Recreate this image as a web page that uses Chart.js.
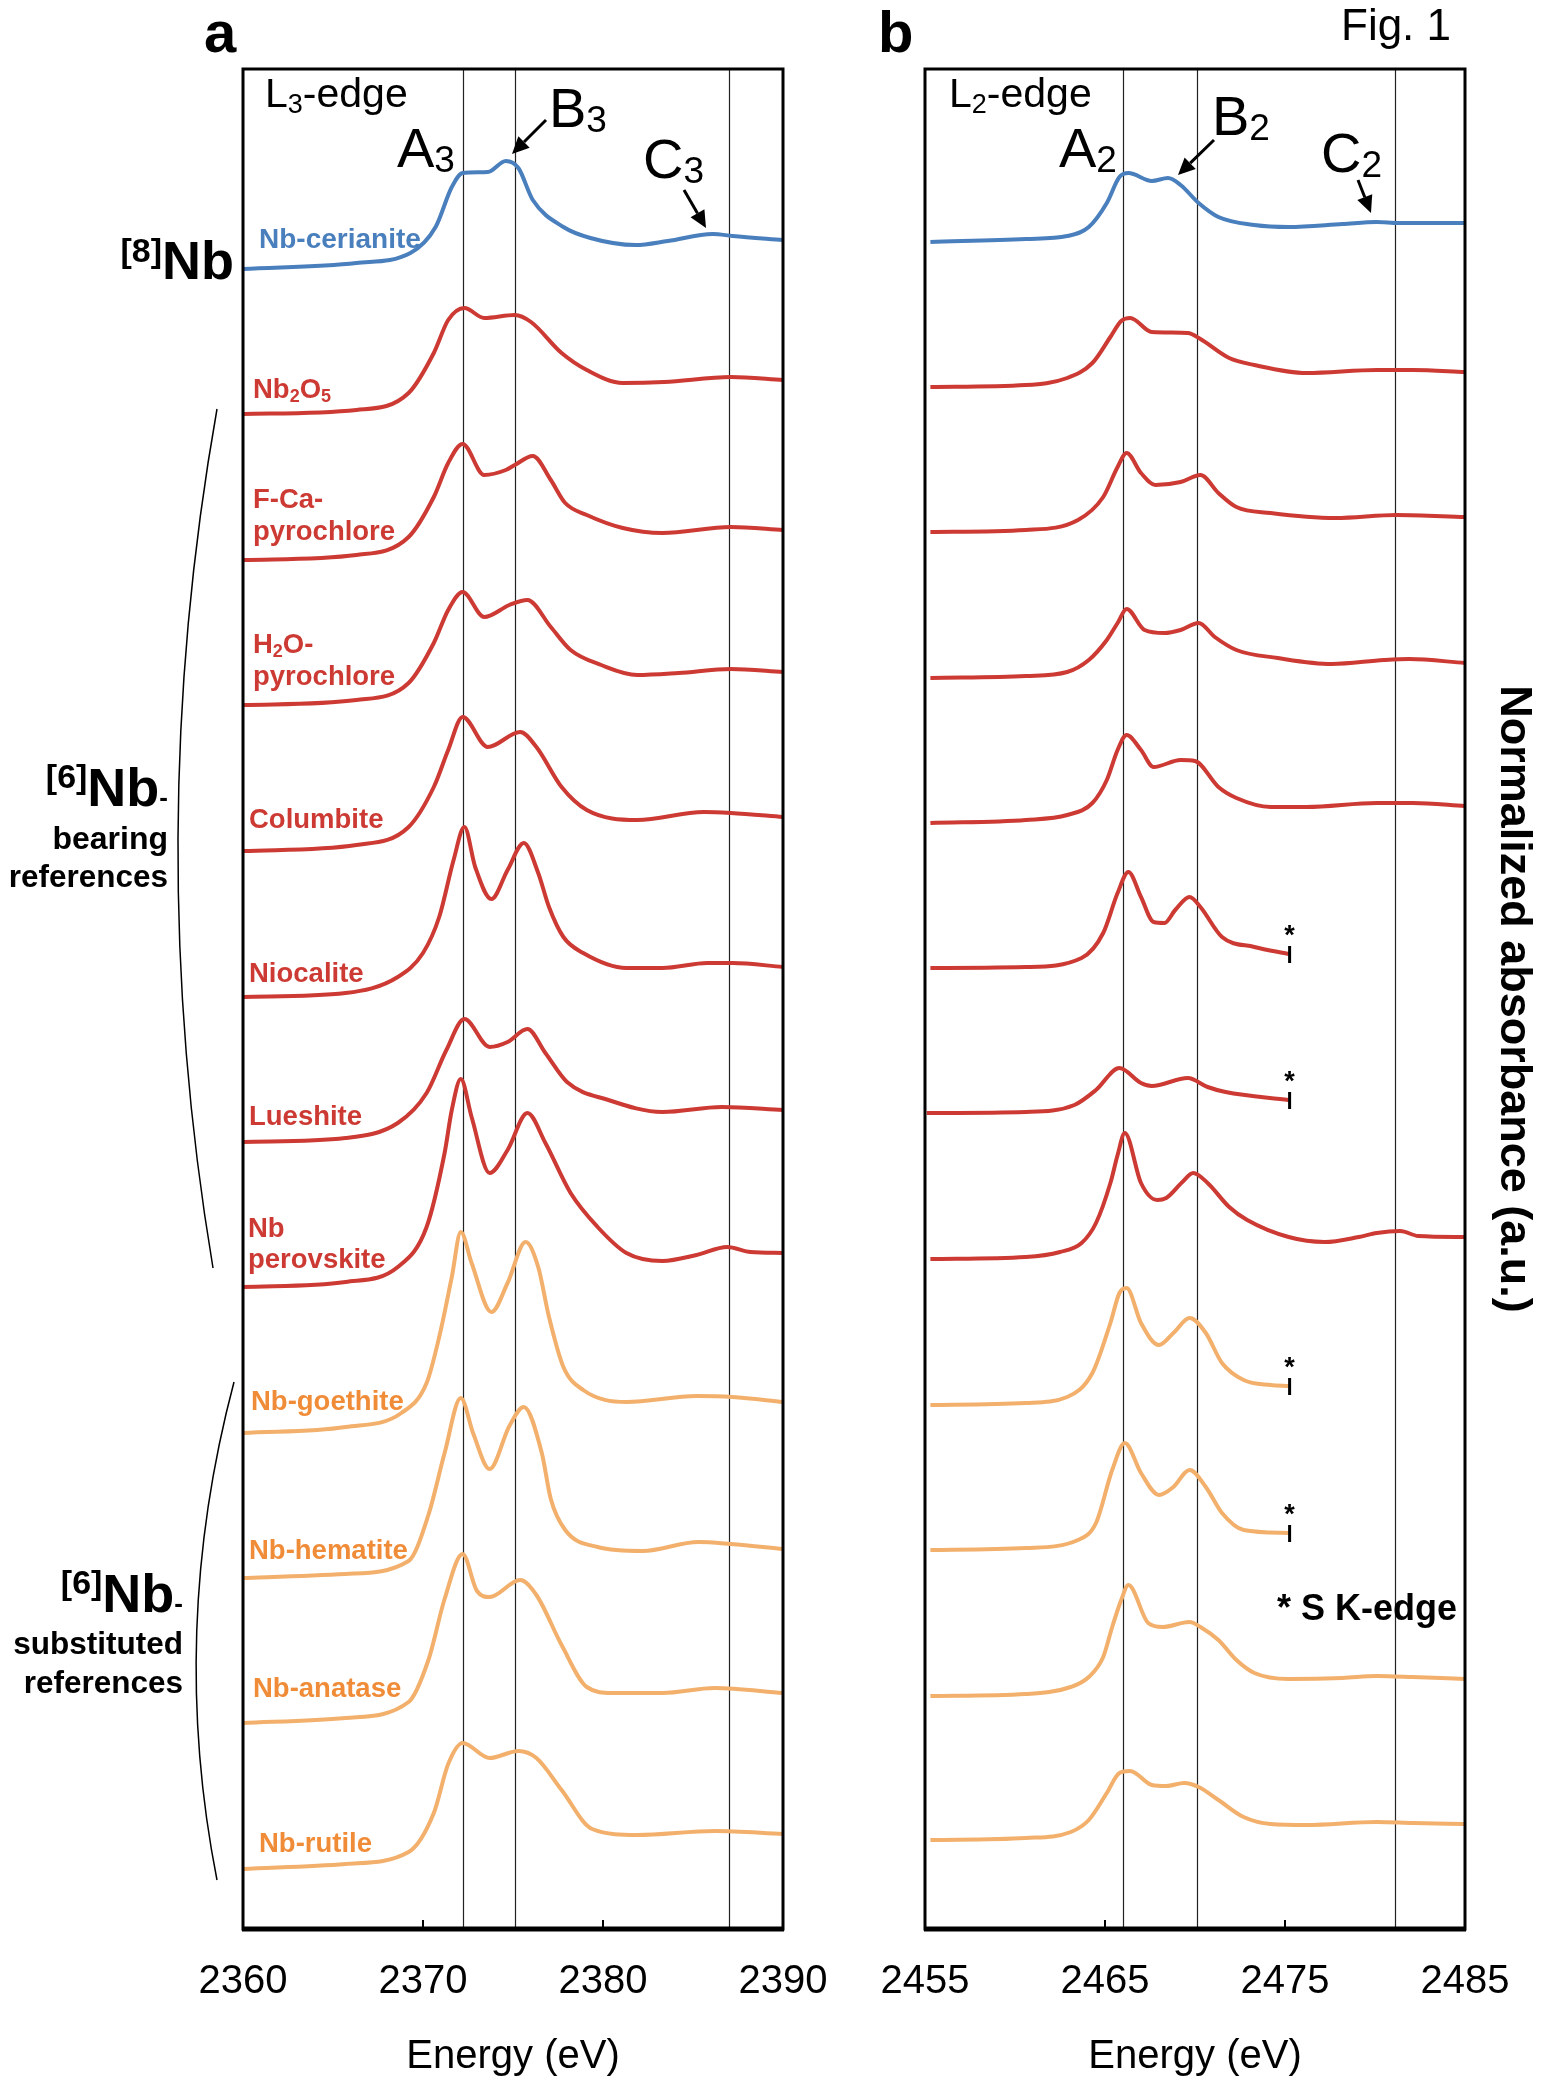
<!DOCTYPE html>
<html>
<head>
<meta charset="utf-8">
<script src="https://cdn.jsdelivr.net/npm/chart.js@4.4.1/dist/chart.umd.min.js"></script>
<style>
  html, body { margin: 0; padding: 0; background: #fff; }
  body { width: 1541px; height: 2081px; position: relative; overflow: hidden; }
  canvas { position: absolute; top: 0; }
  #chartL3 { left: 0; }
  #chartL2 { left: 840px; }
</style>
</head>
<body>
<canvas id="chartL3" width="860" height="2081"></canvas>
<canvas id="chartL2" width="701" height="2081"></canvas>
<script>
// samples, top to bottom
const samples = ["Nb-cerianite", "Nb2O5", "F-Ca-pyrochlore", "H2O-pyrochlore", "Columbite", "Niocalite",
  "Lueshite", "Nb perovskite", "Nb-goethite", "Nb-hematite", "Nb-anatase", "Nb-rutile"];
const groups = ["8", "6b", "6b", "6b", "6b", "6b", "6b", "6b", "6s", "6s", "6s", "6s"];
// L2 spectra cut by the S K-edge
const sKedge = ["Niocalite", "Lueshite", "Nb-goethite", "Nb-hematite"];

// tick values (eV)
const ticksL3 = [2360, 2370, 2380, 2390];
const ticksL2 = [2455, 2465, 2475, 2485];
// A, B, C features (eV)
const featuresL3 = [2372.2, 2375.1, 2387.0];
const featuresL2 = [2466.0, 2470.1, 2481.1];

// vertical offsets of the stacked spectra
const offsetsL3 = [16.60, 15.15, 13.69, 12.24, 10.78, 9.32, 7.87, 6.42, 4.96, 3.51, 2.06, 0.60];
const offsetsL2 = [16.87, 15.42, 13.97, 12.51, 11.06, 9.61, 8.16, 6.70, 5.24, 3.79, 2.33, 0.89];

// L3-edge spectra [energy, normalized absorbance]
const cerL3 = [[2360,0],[2366.3,0.06],[2369.3,0.16],[2370.7,0.42],[2371.6,0.82],[2372.2,0.96],[2373.6,0.97],[2374.6,1.08],[2375.3,1.01],[2376.1,0.69],[2377.8,0.42],[2379.3,0.31],[2381.8,0.24],[2383.6,0.28],[2386.1,0.35],[2387.2,0.33],[2390,0.29]];
const nb2o5L3 = [[2360,0],[2366.3,0.04],[2369.2,0.21],[2370.6,0.61],[2371.4,0.94],[2372.3,1.06],[2373.4,0.96],[2375.1,0.99],[2376.0,0.92],[2377.7,0.61],[2379.1,0.44],[2381.1,0.31],[2383.4,0.32],[2387.1,0.37],[2390,0.34]];
const fcaL3 = [[2360,0],[2366.3,0.05],[2369.2,0.23],[2370.6,0.63],[2371.4,0.97],[2372.2,1.16],[2373.4,0.85],[2374.6,0.90],[2375.1,0.95],[2376.1,1.04],[2377.1,0.80],[2377.9,0.57],[2379.1,0.45],[2381.1,0.32],[2383.3,0.27],[2387.1,0.33],[2390,0.30]];
const h2oL3 = [[2360,0],[2366.3,0.05],[2369.2,0.22],[2370.6,0.62],[2371.4,0.95],[2372.2,1.13],[2373.4,0.88],[2374.8,1.00],[2375.8,1.05],[2377.1,0.78],[2378.2,0.55],[2379.9,0.40],[2381.9,0.30],[2384.2,0.32],[2387.1,0.36],[2390,0.33]];
const colL3 = [[2360,0],[2366.3,0.06],[2369.2,0.24],[2370.6,0.64],[2371.4,1.01],[2372.2,1.34],[2373.6,1.04],[2375.4,1.19],[2376.3,1.04],[2377.7,0.64],[2379.1,0.41],[2381.9,0.31],[2385.6,0.39],[2387.1,0.38],[2390,0.34]];
const nioL3 = [[2360,0],[2365.7,0.04],[2368.6,0.20],[2370,0.44],[2370.9,0.80],[2371.7,1.37],[2372.3,1.70],[2372.9,1.30],[2373.8,0.98],[2374.7,1.27],[2375.6,1.54],[2376.4,1.24],[2377,0.90],[2377.8,0.60],[2378.9,0.44],[2381.3,0.29],[2383.3,0.29],[2385.8,0.34],[2387.2,0.34],[2390,0.30]];
const lueL3 = [[2360,0],[2365.7,0.04],[2368.6,0.19],[2370.2,0.49],[2371.3,0.92],[2372.3,1.23],[2373.7,0.95],[2374.7,1.00],[2375.8,1.13],[2376.8,0.89],[2378,0.60],[2380.3,0.42],[2383.3,0.30],[2386.6,0.35],[2390,0.32]];
const perL3 = [[2360,0],[2365.7,0.05],[2368.6,0.20],[2370.2,0.60],[2371.2,1.34],[2371.6,1.77],[2372.1,2.08],[2372.7,1.70],[2373.7,1.14],[2374.7,1.37],[2375.8,1.74],[2376.8,1.44],[2378.2,0.94],[2379.7,0.60],[2381.3,0.34],[2383.3,0.26],[2385.2,0.32],[2386.9,0.40],[2388.2,0.35],[2390,0.34]];
const goeL3 = [[2360,0],[2365.7,0.06],[2368.8,0.20],[2370.2,0.50],[2370.9,0.96],[2371.6,1.56],[2372.1,2.01],[2372.7,1.70],[2373.8,1.21],[2374.7,1.50],[2375.7,1.91],[2376.4,1.66],[2377,1.16],[2377.8,0.66],[2378.9,0.43],[2381.3,0.31],[2385.2,0.37],[2387.2,0.36],[2390,0.31]];
const hemL3 = [[2360,0],[2365.7,0.04],[2369.2,0.17],[2370.3,0.63],[2371.2,1.25],[2372.1,1.80],[2372.8,1.44],[2373.7,1.09],[2374.8,1.52],[2375.6,1.71],[2376.6,1.25],[2377.1,0.79],[2377.9,0.48],[2379.7,0.31],[2382.2,0.27],[2385.3,0.36],[2387.1,0.34],[2390,0.29]];
const anaL3 = [[2360,0],[2365.7,0.05],[2369.2,0.21],[2370.3,0.63],[2371.2,1.24],[2372.2,1.69],[2373.0,1.32],[2373.7,1.26],[2375.4,1.43],[2376.3,1.28],[2377.7,0.78],[2379.1,0.36],[2380.5,0.30],[2383.3,0.30],[2386.2,0.35],[2390,0.30]];
const rutL3 = [[2360,0],[2365.7,0.05],[2369.2,0.17],[2370.6,0.56],[2371.4,1.05],[2372.2,1.26],[2373.7,1.11],[2375.3,1.18],[2376.3,1.11],[2377.7,0.79],[2379.4,0.40],[2381.9,0.34],[2386.2,0.38],[2390,0.35]];

// L2-edge spectra [energy, normalized absorbance]
const cerL2 = [[2455.3,0],[2460.6,0.03],[2462.9,0.06],[2464.1,0.15],[2465.1,0.39],[2465.8,0.65],[2466.3,0.69],[2467.6,0.61],[2468.5,0.64],[2469.2,0.57],[2470.2,0.39],[2471.3,0.25],[2473.3,0.17],[2475.2,0.15],[2478.2,0.18],[2480.1,0.20],[2481.3,0.19],[2485,0.19]];
const nb2o5L2 = [[2455.3,0],[2460.6,0.02],[2462.9,0.09],[2464.3,0.24],[2465.3,0.50],[2465.9,0.66],[2466.4,0.69],[2467.6,0.55],[2469.6,0.54],[2470.3,0.48],[2471.9,0.29],[2473.3,0.22],[2476.2,0.14],[2480.1,0.17],[2482.1,0.17],[2485,0.15]];
const fcaL2 = [[2455.3,0],[2460.6,0.02],[2463.5,0.12],[2464.9,0.35],[2465.7,0.65],[2466.2,0.79],[2467,0.59],[2467.8,0.47],[2469.2,0.50],[2470.3,0.57],[2471.3,0.39],[2472.3,0.25],[2474.2,0.19],[2477.8,0.14],[2481.2,0.17],[2485,0.15]];
const h2oL2 = [[2455.3,0],[2460.6,0.02],[2462.9,0.06],[2464.1,0.18],[2465.1,0.38],[2465.7,0.55],[2466.2,0.69],[2467.2,0.48],[2468.3,0.45],[2469.2,0.48],[2470.2,0.55],[2471.1,0.41],[2472.3,0.28],[2474.6,0.20],[2477.6,0.14],[2480.5,0.18],[2481.9,0.19],[2485,0.15]];
const colL2 = [[2455.3,0],[2460.6,0.03],[2462.9,0.08],[2464.3,0.20],[2465.1,0.43],[2465.7,0.73],[2466.2,0.88],[2467,0.73],[2467.7,0.56],[2469.2,0.63],[2470,0.62],[2471.3,0.36],[2472.3,0.25],[2474.2,0.16],[2476.2,0.16],[2480.1,0.20],[2482.1,0.20],[2485,0.17]];
const nioL2 = [[2455.3,0],[2460.6,0.01],[2463.7,0.10],[2464.9,0.35],[2465.7,0.75],[2466.3,0.96],[2467,0.71],[2467.7,0.46],[2468.3,0.45],[2468.9,0.58],[2469.7,0.71],[2470.3,0.61],[2471.5,0.31],[2473.3,0.21],[2475.2,0.14]];
const lueL2 = [[2455.1,0],[2460.6,0.01],[2463.3,0.08],[2464.5,0.23],[2465.8,0.45],[2467,0.30],[2467.6,0.27],[2469.6,0.35],[2470.7,0.26],[2471.7,0.21],[2475.2,0.13]];
const perL2 = [[2455.3,0],[2460.6,0.02],[2462.5,0.07],[2463.7,0.16],[2464.5,0.36],[2465.3,0.76],[2465.7,1.04],[2466.1,1.26],[2467,0.76],[2467.9,0.59],[2468.4,0.61],[2469.3,0.77],[2469.9,0.86],[2470.7,0.76],[2471.9,0.52],[2472.9,0.39],[2475.2,0.22],[2477.2,0.17],[2479.1,0.22],[2480.1,0.26],[2481.4,0.28],[2482.4,0.23],[2485,0.22]];
const goeL2 = [[2455.3,0],[2460.6,0.02],[2462.9,0.08],[2464.3,0.32],[2465.3,0.82],[2465.8,1.12],[2466.2,1.17],[2467,0.82],[2468,0.60],[2468.8,0.72],[2469.7,0.87],[2470.6,0.72],[2471.5,0.42],[2472.7,0.25],[2474.2,0.20],[2475.2,0.19]];
const hemL2 = [[2455.3,0],[2460.6,0.02],[2463.5,0.10],[2464.5,0.27],[2465.4,0.80],[2466.1,1.07],[2467,0.77],[2468,0.55],[2468.8,0.63],[2469.7,0.80],[2470.6,0.63],[2471.5,0.37],[2472.7,0.20],[2475.2,0.17]];
const anaL2 = [[2455.3,0],[2460.6,0.02],[2463.1,0.09],[2464.1,0.19],[2464.9,0.39],[2465.4,0.69],[2465.9,0.96],[2466.3,1.11],[2467.4,0.73],[2468.2,0.69],[2469.7,0.74],[2470.3,0.69],[2471.3,0.56],[2472.3,0.36],[2473.3,0.23],[2475.2,0.17],[2478.2,0.18],[2480.1,0.20],[2482.1,0.19],[2485,0.17]];
const rutL2 = [[2455.3,0],[2460.6,0.02],[2463.1,0.08],[2464.1,0.20],[2465.1,0.47],[2465.8,0.67],[2466.4,0.69],[2467.6,0.55],[2468.4,0.54],[2469.4,0.57],[2470.2,0.53],[2471.3,0.40],[2472.7,0.23],[2474.2,0.16],[2476.2,0.15],[2480.1,0.18],[2482.1,0.17],[2485,0.16]];

const seriesL3 = [cerL3, nb2o5L3, fcaL3, h2oL3, colL3, nioL3, lueL3, perL3, goeL3, hemL3, anaL3, rutL3];
const seriesL2 = [cerL2, nb2o5L2, fcaL2, h2oL2, colL2, nioL2, lueL2, perL2, goeL2, hemL2, anaL2, rutL2];

// ---- styling ----
const FONT = "'Liberation Sans', Arial, Helvetica, sans-serif";
const BLUE = "#4a7fbd", RED = "#cc3a33", ORANGE_LINE = "#f2b06c", ORANGE_TEXT = "#f08c38";
const lineColor = { "8": BLUE, "6b": RED, "6s": ORANGE_LINE };

// text items in page pixels: parts = [text, size, dy]
const textsL3 = [
  { t: [["a", 58]], x: 204, y: 52, bold: true },
  { t: [["L", 41], ["3", 27, 6], ["-edge", 41]], x: 265, y: 107 },
  { t: [["A", 56], ["3", 37, 5]], x: 397, y: 167 },
  { t: [["B", 56], ["3", 37, 5]], x: 549, y: 127 },
  { t: [["C", 56], ["3", 37, 5]], x: 643, y: 178 },
  { t: [["[8]", 34, -17], ["Nb", 54]], x: 234, y: 279, bold: true, align: "right" },
  { t: [["[6]", 34, -18], ["Nb", 54], ["-", 26]], x: 168, y: 806, bold: true, align: "right" },
  { t: [["bearing", 32]], x: 168, y: 849, bold: true, align: "right" },
  { t: [["references", 31.5]], x: 168, y: 887, bold: true, align: "right" },
  { t: [["[6]", 34, -18], ["Nb", 54], ["-", 26]], x: 183, y: 1612, bold: true, align: "right" },
  { t: [["substituted", 31.5]], x: 183, y: 1654, bold: true, align: "right" },
  { t: [["references", 31.5]], x: 183, y: 1693, bold: true, align: "right" },
  { t: [["Nb-cerianite", 28]], x: 259, y: 248, bold: true, color: BLUE },
  { t: [["Nb", 27.5], ["2", 18, 4], ["O", 27.5], ["5", 18, 4]], x: 253, y: 398, bold: true, color: RED },
  { t: [["F-Ca-", 27.5]], x: 253, y: 508, bold: true, color: RED },
  { t: [["pyrochlore", 27.5]], x: 253, y: 540, bold: true, color: RED },
  { t: [["H", 27.5], ["2", 18, 4], ["O-", 27.5]], x: 253, y: 653, bold: true, color: RED },
  { t: [["pyrochlore", 27.5]], x: 253, y: 685, bold: true, color: RED },
  { t: [["Columbite", 27.5]], x: 249, y: 828, bold: true, color: RED },
  { t: [["Niocalite", 27.5]], x: 249, y: 982, bold: true, color: RED },
  { t: [["Lueshite", 27.5]], x: 249, y: 1125, bold: true, color: RED },
  { t: [["Nb", 27.5]], x: 248, y: 1237, bold: true, color: RED },
  { t: [["perovskite", 27.5]], x: 248, y: 1268, bold: true, color: RED },
  { t: [["Nb-goethite", 27.5]], x: 251, y: 1410, bold: true, color: ORANGE_TEXT },
  { t: [["Nb-hematite", 27.5]], x: 249, y: 1559, bold: true, color: ORANGE_TEXT },
  { t: [["Nb-anatase", 27.5]], x: 253, y: 1697, bold: true, color: ORANGE_TEXT },
  { t: [["Nb-rutile", 27.5]], x: 259, y: 1852, bold: true, color: ORANGE_TEXT }
];
const textsL2 = [
  { t: [["b", 58]], x: 878, y: 52, bold: true },
  { t: [["Fig. 1", 44]], x: 1341, y: 40 },
  { t: [["L", 41], ["2", 27, 6], ["-edge", 41]], x: 949, y: 107 },
  { t: [["A", 56], ["2", 37, 5]], x: 1059, y: 167 },
  { t: [["B", 56], ["2", 37, 5]], x: 1212, y: 135 },
  { t: [["C", 56], ["2", 37, 5]], x: 1321, y: 172 },
  { t: [["* S K-edge", 36]], x: 1277, y: 1620, bold: true }
];
const arrowsL3 = [[546, 120, 512, 154], [684, 190, 706, 228]];
const arrowsL2 = [[1214, 140, 1178, 175], [1358, 180, 1371, 213]];
const bracketsL3 = [[217, 409, 141, 838, 213, 1268], [234, 1382, 168, 1631, 217, 1880]];

function fontStr(size, bold) { return (bold ? "bold " : "") + size + "px " + FONT; }

function drawParts(ctx, item, ox) {
  ctx.save();
  ctx.fillStyle = item.color || "#000";
  ctx.textBaseline = "alphabetic";
  ctx.textAlign = "left";
  let w = 0;
  item.t.forEach(p => { ctx.font = fontStr(p[1], item.bold); w += ctx.measureText(p[0]).width; });
  let x = item.x - ox - (item.align === "right" ? w : 0);
  item.t.forEach(p => {
    ctx.font = fontStr(p[1], item.bold);
    ctx.fillText(p[0], x, item.y + (p[2] || 0));
    x += ctx.measureText(p[0]).width;
  });
  ctx.restore();
}

function drawArrow(ctx, a, ox) {
  const [x1, y1, x2, y2] = [a[0] - ox, a[1], a[2] - ox, a[3]];
  const ang = Math.atan2(y2 - y1, x2 - x1);
  const hl = 17, hw = 8;
  const bx = x2 - hl * Math.cos(ang), by = y2 - hl * Math.sin(ang);
  ctx.save();
  ctx.strokeStyle = "#000"; ctx.fillStyle = "#000"; ctx.lineWidth = 3;
  ctx.beginPath(); ctx.moveTo(x1, y1); ctx.lineTo(bx, by); ctx.stroke();
  ctx.beginPath();
  ctx.moveTo(x2, y2);
  ctx.lineTo(bx + hw * Math.sin(ang), by - hw * Math.cos(ang));
  ctx.lineTo(bx - hw * Math.sin(ang), by + hw * Math.cos(ang));
  ctx.closePath(); ctx.fill();
  ctx.restore();
}

const panelDecor = {
  id: "panelDecor",
  beforeDatasetsDraw(chart, args, opts) {
    const { ctx, chartArea: ca, scales: { x } } = chart;
    ctx.save();
    ctx.strokeStyle = "#222"; ctx.lineWidth = 1.2;
    opts.features.forEach(e => {
      const px = Math.round(x.getPixelForValue(e)) + 0.5;
      ctx.beginPath(); ctx.moveTo(px, ca.top); ctx.lineTo(px, ca.bottom); ctx.stroke();
    });
    ctx.restore();
  },
  afterDatasetsDraw(chart, args, opts) {
    const { ctx, chartArea: ca, scales: { x } } = chart;
    const ox = opts.offsetX;
    ctx.save();
    // frame
    ctx.strokeStyle = "#000"; ctx.lineWidth = 3;
    ctx.strokeRect(ca.left, ca.top, ca.right - ca.left, ca.bottom - ca.top);
    ctx.lineWidth = 5;
    ctx.beginPath(); ctx.moveTo(ca.left - 1, ca.bottom); ctx.lineTo(ca.right + 1, ca.bottom); ctx.stroke();
    // inner tick marks
    ctx.lineWidth = 2;
    x.ticks.forEach(t => {
      if (t.value <= x.min || t.value >= x.max) return;
      const px = x.getPixelForValue(t.value);
      ctx.beginPath(); ctx.moveTo(px, ca.bottom); ctx.lineTo(px, ca.bottom - 9); ctx.stroke();
    });
    // S K-edge cut marks
    chart.data.datasets.forEach((ds, i) => {
      if (!sKedge.includes(ds.label) || !opts.cutMarks) return;
      const pts = chart.getDatasetMeta(i).data;
      const p = pts[pts.length - 1];
      ctx.lineWidth = 3; ctx.strokeStyle = "#000";
      ctx.beginPath(); ctx.moveTo(p.x + 1, p.y - 8); ctx.lineTo(p.x + 1, p.y + 9); ctx.stroke();
      ctx.fillStyle = "#000"; ctx.font = fontStr(27, true);
      ctx.textAlign = "center"; ctx.textBaseline = "alphabetic";
      ctx.fillText("*", p.x + 1, p.y - 10);
    });
    // brackets
    ctx.lineWidth = 1.5; ctx.strokeStyle = "#000";
    (opts.brackets || []).forEach(b => {
      ctx.beginPath(); ctx.moveTo(b[0] - ox, b[1]);
      ctx.quadraticCurveTo(b[2] - ox, b[3], b[4] - ox, b[5]); ctx.stroke();
    });
    ctx.restore();
    opts.arrows.forEach(a => drawArrow(ctx, a, ox));
    opts.texts.forEach(t => drawParts(ctx, t, ox));
  }
};

function buildDatasets(series, offsets) {
  return series.map((pts, i) => ({
    label: samples[i],
    data: pts.map(([e, a]) => ({ x: e, y: a + offsets[i] })),
    borderColor: lineColor[groups[i]],
    borderWidth: 4,
    pointRadius: 0,
    fill: false,
    cubicInterpolationMode: "monotone"
  }));
}

function xScale(ticks) {
  return {
    type: "linear",
    min: ticks[0],
    max: ticks[ticks.length - 1],
    ticks: { stepSize: 10, color: "#000", font: { size: 40, family: FONT }, padding: 29,
      maxRotation: 0, autoSkip: false, callback: v => String(v) },
    grid: { display: false, drawTicks: false },
    border: { display: false },
    title: { display: true, text: "Energy (eV)", color: "#000", font: { size: 40, family: FONT }, padding: 0 },
    afterFit: s => { s.height = 152; }
  };
}

const configL3 = {
  type: "line",
  data: { datasets: buildDatasets(seriesL3, offsetsL3) },
  options: {
    responsive: false,
    animation: false,
    layout: { padding: { left: 243, right: 77, top: 69, bottom: 0 } },
    scales: {
      x: xScale(ticksL3),
      y: { display: false, min: 0, max: 18.6 }
    },
    plugins: {
      legend: { display: false },
      tooltip: { enabled: false },
      panelDecor: { offsetX: 0, features: featuresL3, texts: textsL3, arrows: arrowsL3, brackets: bracketsL3, cutMarks: false }
    }
  },
  plugins: [panelDecor]
};

const configL2 = {
  type: "line",
  data: { datasets: buildDatasets(seriesL2, offsetsL2) },
  options: {
    responsive: false,
    animation: false,
    layout: { padding: { left: 85, right: 0, top: 69, bottom: 0 } },
    scales: {
      x: xScale(ticksL2),
      y: {
        position: "right", min: 0, max: 18.6,
        ticks: { display: false },
        grid: { display: false, drawTicks: false },
        border: { display: false },
        title: { display: true, text: "Normalized absorbance (a.u.)", color: "#000",
          font: { size: 45, weight: "bold", family: FONT }, padding: { top: 1, bottom: 0 } },
        afterFit: s => { s.width = 76; }
      }
    },
    plugins: {
      legend: { display: false },
      tooltip: { enabled: false },
      panelDecor: { offsetX: 840, features: featuresL2, texts: textsL2, arrows: arrowsL2, brackets: [], cutMarks: true }
    }
  },
  plugins: [panelDecor]
};

const canvasL3 = document.getElementById("chartL3");
const canvasL2 = document.getElementById("chartL2");
if (canvasL3 && canvasL2) {
  new Chart(canvasL3.getContext("2d"), configL3);
  new Chart(canvasL2.getContext("2d"), configL2);
} else {
  console.error("canvas not found");
}
</script>
</body>
</html>
